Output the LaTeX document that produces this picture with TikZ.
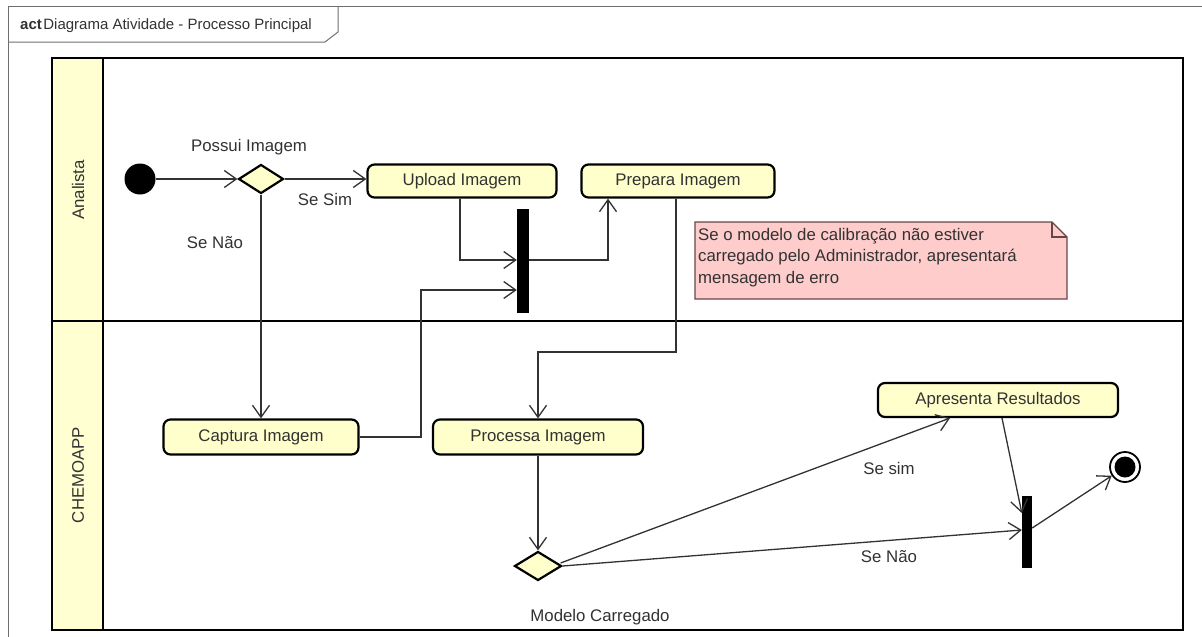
\documentclass[tikz,border=0pt]{standalone}
\usepackage{fontspec}
\setmainfont{Liberation Sans}
\usetikzlibrary{arrows.meta,shapes.geometric,calc}

\definecolor{actfill}{RGB}{255,255,204}
\definecolor{lanefill}{RGB}{255,255,210}
\definecolor{notefill}{RGB}{255,204,204}
\definecolor{noteline}{RGB}{105,70,70}
\definecolor{inkgray}{RGB}{50,50,50}
\definecolor{framegray}{RGB}{110,110,110}

\begin{document}
\begin{tikzpicture}[x=1pt,y=-1pt,
  font=\fontsize{16.8}{20}\selectfont,
  every node/.style={text=inkgray},
  activity/.style={draw=black, line width=2.2pt, fill=actfill, rounded corners=7pt,
    minimum height=33pt, inner sep=0pt},
  decision/.style={diamond, draw=black, line width=2.2pt, fill=actfill,
    minimum width=45pt, minimum height=29pt, inner sep=0pt},
  syncbar/.style={fill=black, draw=none, inner sep=0pt},
  flow/.style={draw=inkgray, line width=1.3pt,
    -{Straight Barb[length=12pt,width=17pt]}},
  lanestroke/.style={draw=black, line width=2.4pt},
]
\useasboundingbox (0,0) rectangle (1202,637);

% diagram frame and its name tab
\draw[framegray, line width=1pt] (8,640) -- (8,6) -- (1205,6);
\draw[framegray, line width=1pt] (8,42) -- (325,42) -- (338,32) -- (338,6);
\node[anchor=west, font=\fontsize{15}{18}\selectfont, inner sep=0pt] (title) at (20,26)
  {\textbf{act}\kern1.5pt Diagrama Atividade - Processo Principal};

% swimlanes
\fill[lanefill] (52,58) rectangle (103,630);
\draw[lanestroke] (52,58) rectangle (1183,630);
\draw[lanestroke] (103,58) -- (103,630);
\draw[lanestroke] (52,321) -- (1183,321);
\node[rotate=90] (laneA) at (78,190) {Analista};
\node[rotate=90] (laneB) at (78,475) {CHEMOAPP};

% note
\filldraw[fill=notefill, draw=noteline, line width=1.2pt]
  (695,222) -- (1052,222) -- (1067,237) -- (1067,299) -- (695,299) -- cycle;
\draw[noteline, line width=1.2pt] (1052,222) -- (1052,237) -- (1067,237);
\node[anchor=north west, align=left, inner sep=0pt, font=\fontsize{16.8}{21.5}\selectfont]
  (note) at (698,228)
  {Se o modelo de calibração não estiver\\carregado pelo Administrador, apresentará\\mensagem de erro};

% nodes
\node[circle, fill=black, minimum size=31pt, inner sep=0pt] (ini) at (140,179) {};
\node[decision] (d1) at (261,179) {};
\node[activity, minimum width=189pt] (up) at (462,181) {Upload Imagem};
\node[activity, minimum width=193pt] (prep) at (678,181) {Prepara Imagem};
\node[activity, minimum width=195pt, minimum height=35pt] (cap) at (261,437) {Captura Imagem};
\node[activity, minimum width=210pt, minimum height=35pt] (proc) at (538,437) {Processa Imagem};
\node[decision, minimum width=47pt] (d2) at (538,566) {};
\node[activity, minimum width=240pt, minimum height=34pt] (apr) at (998,400) {Apresenta Resultados};
\node[circle, draw=black, line width=1.8pt, fill=white, minimum size=30pt, inner sep=0pt] (fin) at (1125,467) {};
\fill[black] (fin.center) circle (10.5pt);

% synchronisation bars
\node[syncbar, minimum width=12pt, minimum height=104pt] (bar1) at (523,261) {};
\node[syncbar, minimum width=10pt, minimum height=72pt] (bar2) at (1027,532) {};

% bend points of routed flows
\coordinate (j1) at (421,290);
\coordinate (j2) at (608,260);
\coordinate (j3) at (676,352);

% flows
\draw[flow] (ini) -- (d1.west);
\draw[flow] (d1.east) -- (d1.east -| up.west);
\draw[flow] (d1.south) -- (cap.north);
\draw[flow] ($(up.south)+(-2,0)$) |- ($(bar1.west)+(0,-1)$);
\draw[flow] (cap.east) -| (j1) -- (j1 -| bar1.west);
\draw[flow] ($(bar1.east)+(0,-1)$) -- (j2) -- (j2 |- prep.south);
\draw[flow] ($(prep.south)+(-2,0)$) -- (j3) -| (proc.north);
\draw[flow] (proc.south) -- (d2.north);
\draw[flow] ($(d2.east)+(-2,-3)$) -- ($(apr.south)+(-48,0)$);
\draw[flow] (d2.east) -- ($(bar2.west)+(0,-2)$);
\draw[flow] ($(apr.south)+(4,0)$) -- ($(bar2.west)+(0,-19)$);
\draw[flow] ($(bar2.east)+(0,-4)$) -- (fin);

% guard and decision labels
\node (lPossui) at (249,147) {Possui Imagem};
\node (lSim1) at (325,199) {Se Sim};
\node (lNao1) at (215,243) {Se Não};
\node (lSim2) at (889,468) {Se sim};
\node (lNao2) at (889,557) {Se Não};
\node (lModelo) at (600,617) {Modelo Carregado};
\end{tikzpicture}
\end{document}
